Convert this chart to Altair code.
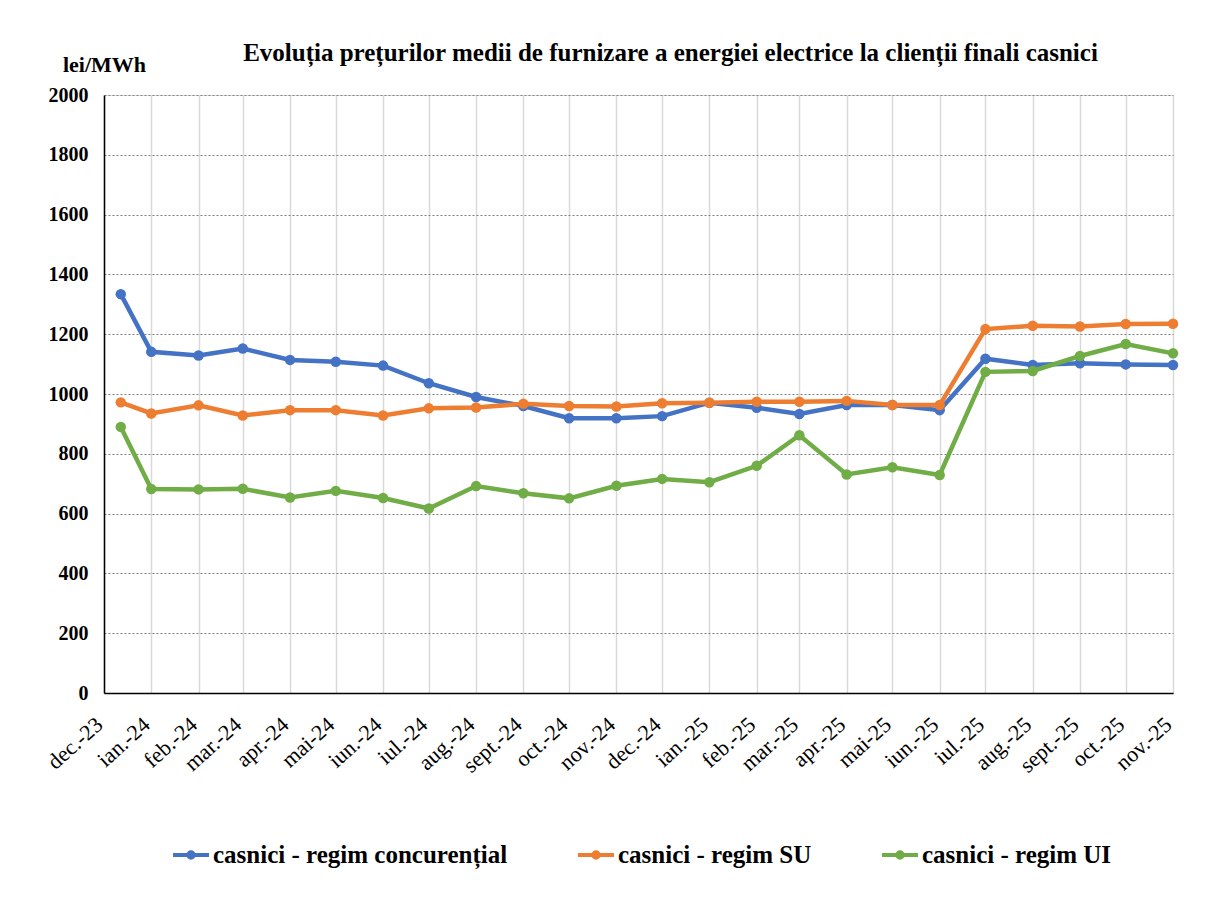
import json
import altair as alt
import pandas as pd

# ---- data -----------------------------------------------------------------
month_labels = ["dec.-23", "ian.-24", "feb.-24", "mar.-24", "apr.-24", "mai-24",
                "iun.-24", "iul.-24", "aug.-24", "sept.-24", "oct.-24", "nov.-24",
                "dec.-24", "ian.-25", "feb.-25", "mar.-25", "apr.-25", "mai-25",
                "iun.-25", "iul.-25", "aug.-25", "sept.-25", "oct.-25", "nov.-25"]
point_dates = ["2023-12-12", "2024-01-01", "2024-02-01", "2024-03-01", "2024-04-01",
               "2024-05-01", "2024-06-01", "2024-07-01", "2024-08-01", "2024-09-01",
               "2024-10-01", "2024-11-01", "2024-12-01", "2025-01-01", "2025-02-01",
               "2025-03-01", "2025-04-01", "2025-05-01", "2025-06-01", "2025-07-01",
               "2025-08-01", "2025-09-01", "2025-10-01", "2025-11-01"]
concurential = [1334, 1141, 1129, 1152, 1114, 1108, 1095, 1036, 990, 960, 919, 919,
                926, 971, 954, 933, 963, 963, 946, 1118, 1097, 1103, 1099, 1097]
regim_su = [972, 935, 962, 928, 946, 946, 928, 952, 955, 967, 960, 958,
            969, 971, 974, 974, 977, 963, 963, 1217, 1228, 1226, 1234, 1235]
regim_ui = [890, 682, 681, 683, 654, 676, 652, 617, 692, 668, 651, 693,
            716, 705, 760, 862, 731, 755, 729, 1074, 1077, 1127, 1167, 1136]
series_names = ["casnici - regim concurențial", "casnici - regim SU", "casnici - regim UI"]
series_colors = ["#4472C4", "#ED7D31", "#70AD47"]
title_text = "Evoluția prețurilor medii de furnizare a energiei electrice la clienții finali casnici"
y_unit = "lei/MWh"

rows = []
for name, vals in zip(series_names, [concurential, regim_su, regim_ui]):
    for d, v in zip(point_dates, vals):
        rows.append({"data": d, "valoare": v, "serie": name})
df = pd.DataFrame(rows)

tick_ms = [int(t.value // 10**6) for t in pd.date_range("2023-12-01", periods=len(month_labels), freq="MS")]
domain_ms = [tick_ms[0], tick_ms[-1]]

FONT = "Liberation Serif"
label_expr = f"{json.dumps(month_labels)}[(utcyear(datum.value)-2023)*12+utcmonth(datum.value)-11]"

x_enc = alt.X("data:T",
              scale=alt.Scale(type="utc", domain=domain_ms),
              axis=alt.Axis(values=tick_ms, labelExpr=label_expr, title=None,
                            labelAngle=-42, labelAlign="right", labelBaseline="middle",
                            labelPadding=28, labelOffset=-5, labelFontSize=22, labelFont=FONT,
                            labelColor="black", ticks=False, grid=True,
                            gridColor="#d9d9d9", gridWidth=1.5,
                            domainColor="black", domainWidth=1.5, labelOverlap=False))
y_enc = alt.Y("valoare:Q",
              scale=alt.Scale(domain=[0, 2000], nice=False),
              axis=alt.Axis(values=list(range(0, 2001, 200)), format="d", title=y_unit,
                            titleAngle=0, titleAlign="center", titleBaseline="alphabetic",
                            titleX=0, titleY=-24, titleFont=FONT, titleFontSize=22,
                            titleFontWeight="bold", titleColor="black",
                            labelFont=FONT, labelFontSize=20, labelFontWeight="bold",
                            labelColor="black", labelPadding=16, ticks=False,
                            grid=True, gridColor="#808080", gridDash=[2, 2], gridWidth=1,
                            domainColor="black", domainWidth=1.5))

legend_symbol = "M-1,0L1,0M-0.15,0A0.15,0.15 0 1,1 0.15,0A0.15,0.15 0 1,1 -0.15,0"
color_enc = alt.Color("serie:N",
                      scale=alt.Scale(domain=series_names, range=series_colors),
                      legend=alt.Legend(title=None, orient="none", direction="horizontal",
                                        legendX=67, legendY=740,
                                        symbolType=legend_symbol, symbolSize=1296,
                                        symbolStrokeWidth=4, labelFont=FONT,
                                        labelFontSize=25, labelFontWeight="bold",
                                        labelColor="black", labelOffset=2,
                                        columnPadding=62, labelLimit=600))

base = alt.Chart(df)
layers = []
for name, col in zip(series_names, series_colors):
    sub = base.transform_filter(alt.datum.serie == name)
    layers.append(sub.mark_line(strokeWidth=4.5).encode(x=x_enc, y=y_enc, color=color_enc))
    layers.append(sub.mark_circle(size=110, opacity=1, color=col).encode(x=x_enc, y=y_enc))

chart = alt.layer(*layers).properties(
    width=1069, height=598,
    padding={"left": 96, "top": 87, "right": 40, "bottom": 190},
    autosize=alt.AutoSizeParams(type="none"),
    title=alt.TitleParams(title_text, font=FONT, fontSize=25, fontWeight="bold",
                          color="black", anchor="middle", frame="group", dx=32, dy=33,
                          baseline="alphabetic", offset=0),
).configure_view(stroke="black", strokeWidth=1.5).configure(background="white")

chart.save("out.html", embed_options={"renderer": "svg", "actions": False})
